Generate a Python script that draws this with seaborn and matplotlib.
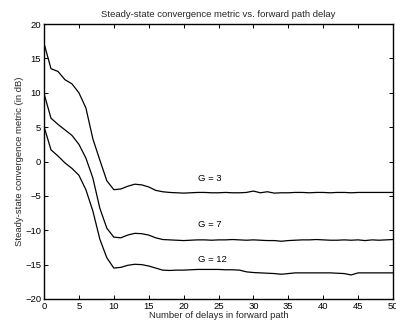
import numpy as np
import pandas as pd
import matplotlib
matplotlib.use("Agg")
import matplotlib.pyplot as plt
import seaborn as sns

delays = list(range(0, 51))

g3 = [17.2, 13.5, 13.1, 11.9, 11.3, 10.0, 7.8, 3.3, 0.2, -2.8,
      -4.1, -4.0, -3.6, -3.3, -3.4, -3.7, -4.2, -4.4, -4.5, -4.55,
      -4.6, -4.55, -4.5, -4.5, -4.55, -4.55, -4.5, -4.55, -4.55, -4.5,
      -4.3, -4.55, -4.4, -4.6, -4.55, -4.55, -4.5, -4.5, -4.55, -4.5,
      -4.5, -4.55, -4.5, -4.5, -4.55, -4.5, -4.5, -4.5, -4.5, -4.5, -4.5]

g7 = [9.9, 6.3, 5.4, 4.6, 3.8, 2.5, 0.5, -2.4, -6.8, -9.7,
      -11.0, -11.1, -10.7, -10.45, -10.5, -10.7, -11.1, -11.35, -11.4, -11.45,
      -11.5, -11.45, -11.4, -11.4, -11.45, -11.4, -11.4, -11.35, -11.4, -11.45,
      -11.4, -11.45, -11.5, -11.5, -11.6, -11.5, -11.45, -11.4, -11.4, -11.35,
      -11.4, -11.45, -11.45, -11.4, -11.45, -11.4, -11.5, -11.4, -11.45, -11.4, -11.35]

g12 = [5.1, 1.7, 0.8, -0.2, -1.0, -2.0, -4.1, -7.2, -11.3, -14.0,
       -15.5, -15.4, -15.1, -14.95, -15.0, -15.2, -15.5, -15.8, -15.85, -15.8,
       -15.8, -15.75, -15.7, -15.7, -15.7, -15.7, -15.75, -15.75, -15.8, -16.05,
       -16.15, -16.2, -16.25, -16.3, -16.4, -16.3, -16.2, -16.2, -16.2, -16.2,
       -16.2, -16.2, -16.25, -16.3, -16.5, -16.2, -16.2, -16.2, -16.2, -16.2, -16.2]

series_names = ["G = 3", "G = 7", "G = 12"]
label_x = [22.1, 22.1, 22.1]
label_y = [-2.5, -9.1, -14.3]

df = pd.concat([
    pd.DataFrame({"delay": delays, "metric": vals, "G": name})
    for name, vals in zip(series_names, [g3, g7, g12])
])

sns.set_style("ticks")
plt.rcParams["font.family"] = ["Liberation Sans", "DejaVu Sans"]

FS = 6.8
fig = plt.figure(figsize=(3.96, 3.21), dpi=100)
ax = fig.add_axes([44 / 396, 22 / 321, 349 / 396, 275 / 321])

sns.lineplot(data=df, x="delay", y="metric", units="G", estimator=None,
             color="black", linewidth=0.9, ax=ax, legend=False)

for name, lx, ly in zip(series_names, label_x, label_y):
    ax.text(lx, ly, name, fontsize=FS, ha="left", va="center", color="black")

ax.set_xlim(0, 50)
ax.set_ylim(-20, 20)
ax.set_xticks(np.arange(0, 51, 5))
ax.set_yticks(np.arange(-20, 21, 5))
ax.tick_params(direction="in", length=3, width=0.7, top=True, right=True,
               labelsize=FS, pad=2, colors="black")
for s in ax.spines.values():
    s.set_linewidth(1.0)
    s.set_color("black")
    s.set_visible(True)

ax.set_title("Steady-state convergence metric vs. forward path delay",
             fontsize=FS, pad=5)
ax.set_xlabel("Number of delays in forward path", fontsize=FS, labelpad=0.5)
ax.set_ylabel("Steady-state convergence metric (in dB)", fontsize=FS, labelpad=1)

fig.savefig("out.png", dpi=100)
